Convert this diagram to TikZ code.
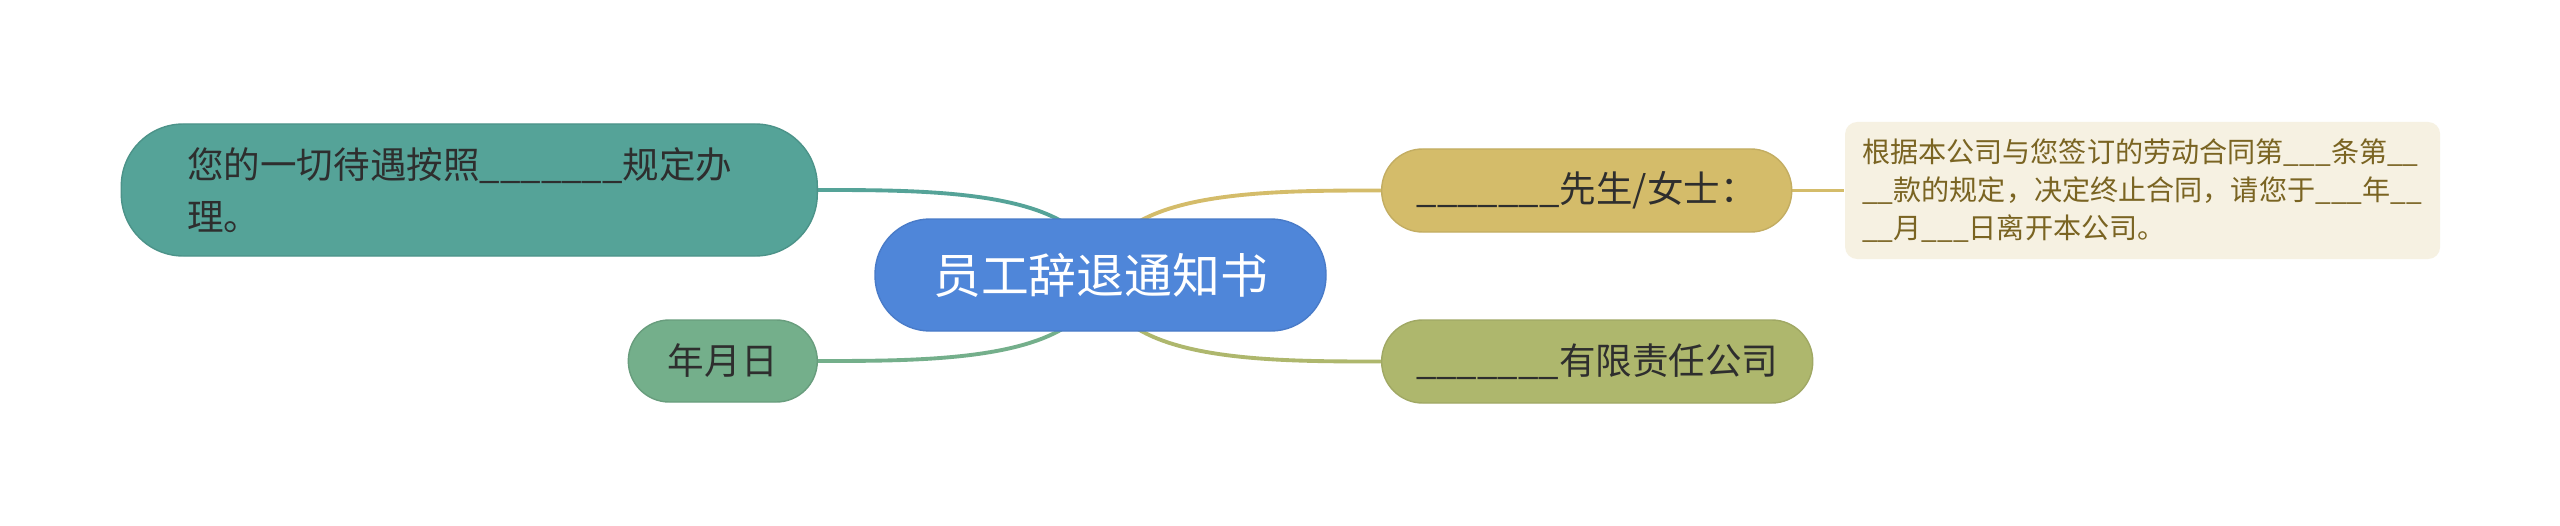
\documentclass[tikz,border=0pt]{standalone}
\usepackage{fontspec}
\setmainfont{Noto Sans CJK SC}
\usetikzlibrary{positioning, backgrounds}
\definecolor{mapBlue}{HTML}{4F86D9}
\definecolor{mapTeal}{HTML}{55A398}
\definecolor{mapGreen}{HTML}{74AF8B}
\definecolor{mapGold}{HTML}{D4BC6A}
\definecolor{mapOlive}{HTML}{AEB76D}
\definecolor{noteBg}{HTML}{F6F1E2}
\definecolor{noteText}{HTML}{7A6422}
\definecolor{textDark}{HTML}{2E2E2E}
\tikzset{
  link/.style={line width=1.1pt},
  linkThin/.style={line width=0.95pt},
  rootBox/.style={rectangle, rounded corners=0.55cm, fill=mapBlue, draw=mapBlue!92!black,
                  line width=0.4pt, text=white, minimum width=4.51cm, minimum height=1.12cm,
                  inner sep=0pt, font=\fontsize{13.6pt}{16pt}\selectfont},
  subBox/.style={rectangle, rounded corners=0.41cm, text=textDark, minimum height=0.83cm,
                 inner sep=0pt, line width=0.4pt, font=\fontsize{10.4pt}{14.8pt}\selectfont},
  boxTeal/.style={subBox, fill=mapTeal, draw=mapTeal!90!black},
  boxGreen/.style={subBox, fill=mapGreen, draw=mapGreen!90!black},
  boxGold/.style={subBox, fill=mapGold, draw=mapGold!92!black},
  boxOlive/.style={subBox, fill=mapOlive, draw=mapOlive!92!black},
  noteBox/.style={rectangle, rounded corners=0.12cm, fill=noteBg, text=noteText, align=left,
                  text width=5.61cm, inner xsep=0.17cm, minimum height=1.37cm,
                  font=\fontsize{8pt}{10.8pt}\selectfont},
}

\begin{document}
\begin{tikzpicture}
    \useasboundingbox (0,0) rectangle (25.6,5.25);
    \node[rootBox] (root) at (11.005,2.50) {员工辞退通知书};
    \node[boxTeal, anchor=east, rounded corners=0.62cm, minimum width=6.96cm, minimum height=1.32cm,
          text width=5.64cm, align=left] (care) at (8.18,3.35)
          {您的一切待遇按照\_\_\_\_\_\_\_规定办\\理。};
    \node[boxGreen, anchor=east, minimum width=1.89cm, minimum height=0.82cm]
          (date) at (8.18,1.64) {年月日};
    \node[boxGold, anchor=west, minimum width=4.10cm] (dear) at (13.81,3.345)
          {\_\_\_\_\_\_\_先生/女士：};
    \node[boxOlive, anchor=west, minimum width=4.31cm] (firm) at (13.81,1.635)
          {\_\_\_\_\_\_\_有限责任公司};
    \node[noteBox, right=0.52cm of dear] (notice)
          {根据本公司与您签订的劳动合同第\_\_\_条第\_\_\\
           \_\_款的规定，决定终止合同，请您于\_\_\_年\_\_\\
           \_\_月\_\_\_日离开本公司。};
    \begin{scope}[on background layer]
      \fill[white] (0,0) rectangle (25.6,5.25);
      \draw[link, mapTeal] (root.center) .. controls +(-0.1,0.85) and +(1.2,0) .. (care.east);
      \draw[link, mapGreen] (root.center) .. controls +(-0.1,-0.86) and +(1.2,0) .. (date.east);
      \draw[link, mapGold] (root.center) .. controls +(0.1,0.845) and +(-1.2,0) .. (dear.west);
      \draw[link, mapOlive] (root.center) .. controls +(0.1,-0.865) and +(-1.2,0) .. (firm.west);
      \draw[linkThin, mapGold] (dear.east) -- (notice.west);
    \end{scope}
\end{tikzpicture}
\end{document}
